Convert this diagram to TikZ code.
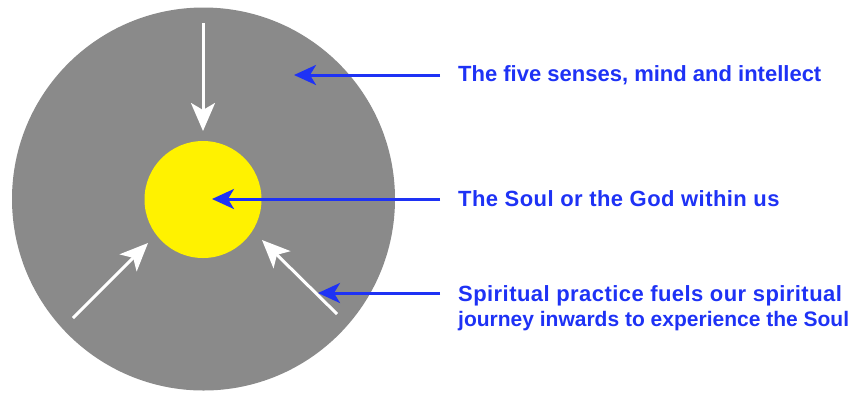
\documentclass[tikz,border=0pt]{standalone}
\usepackage{fontspec}
\setmainfont{Liberation Sans}
\usetikzlibrary{arrows.meta}
\definecolor{outergray}{RGB}{138,138,138}
\definecolor{labelblue}{RGB}{30,50,245}
\begin{document}
\begin{tikzpicture}[x=1pt,y=-1pt,
  whitearrow/.style={draw=white,line width=3pt,-{Stealth[length=28pt,width=24pt,inset=7pt]}},
  bluearrow/.style={draw=labelblue,line width=3pt,-{Stealth[length=22pt,width=20pt,inset=6pt]}},
  lbl/.style={anchor=west,inner sep=0pt,text=labelblue,font=\bfseries\fontsize{22}{24.5}\selectfont,align=left}]
\useasboundingbox (0,0) rectangle (850,392);
\fill[outergray] (203.5,199) circle (191.5);
\fill[yellow] (203,199.5) circle (58.5);
\coordinate (t0) at (203,23);
\coordinate (t1) at (203,131);
\coordinate (l0) at (73,318);
\coordinate (l1) at (148,243);
\coordinate (r0) at (337,314);
\coordinate (r1) at (262,240);
\draw[whitearrow] (t0) -- (t1);
\draw[whitearrow] (l0) -- (l1);
\draw[whitearrow] (r0) -- (r1);
\node[lbl] (a) at (458,75) {The five senses, mind and intellect};
\node[lbl] (b) at (458,199) {\addfontfeature{LetterSpace=2}The Soul or the God within us};
\node[lbl] (c) at (458,308) {{\addfontfeature{LetterSpace=2}Spiritual practice fuels our spiritual}\\{\fontsize{21}{24.5}\selectfont journey inwards to experience the Soul}};
\coordinate (a0) at (440,75);
\coordinate (a1) at (294,75);
\coordinate (b0) at (440,199);
\coordinate (b1) at (212,199);
\coordinate (c0) at (440,293);
\coordinate (c1) at (318,293);
\draw[bluearrow] (a0) -- (a1);
\draw[bluearrow] (b0) -- (b1);
\draw[bluearrow] (c0) -- (c1);
\end{tikzpicture}
\end{document}
